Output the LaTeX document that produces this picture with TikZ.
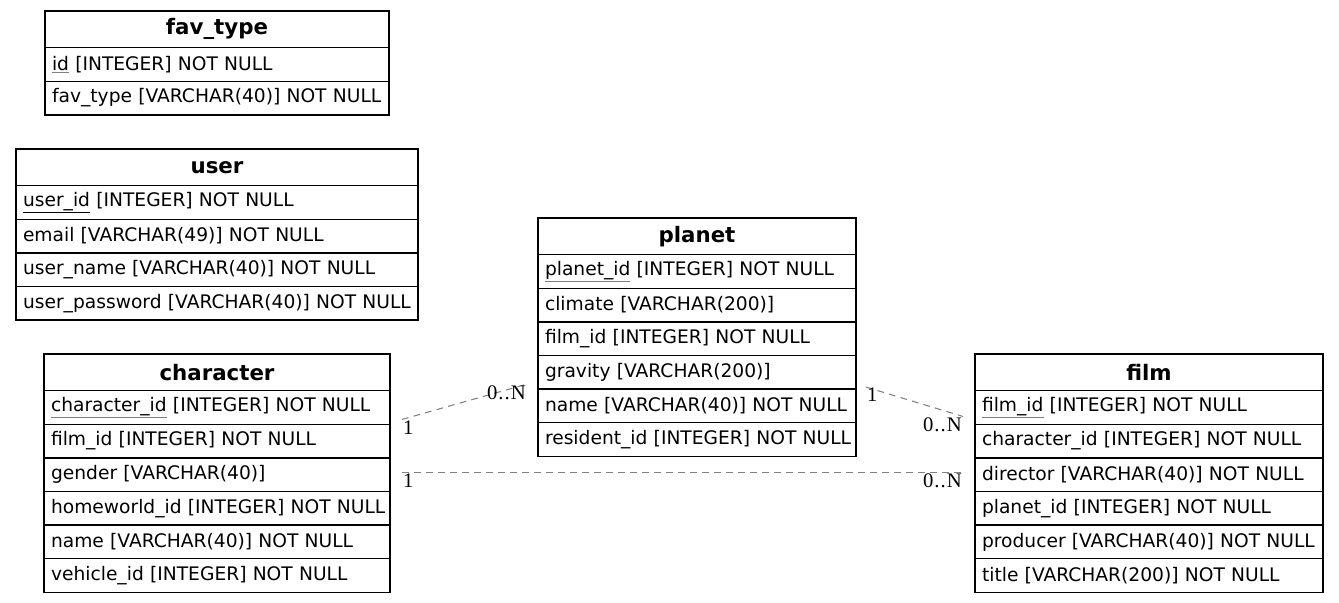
\documentclass[tikz,border=0pt]{standalone}
\usepackage{fontspec}
\setmainfont{DejaVu Sans}
\newfontfamily\cardfont[LetterSpace=5]{Liberation Serif}
\usetikzlibrary{positioning}
\newcommand{\pkey}[1]{\textcolor{gray}{\underline{\textcolor{black}{#1}}}}
\tikzset{
  tablehead/.style={draw, line width=1pt, outer sep=0pt, inner xsep=5.25pt, inner ysep=0pt,
    text width=#1, align=center, minimum height=27.5pt, font=\fontsize{16pt}{18pt}\selectfont\bfseries},
  tablerow/.style={draw, line width=1pt, outer sep=0pt, inner xsep=5.25pt, inner ysep=0pt,
    text width=#1, align=left, minimum height=25.2pt, font=\fontsize{14pt}{16pt}\selectfont},
  relation/.style={draw=gray, line width=0.8pt, dash pattern=on 5pt off 4pt},
  card/.style={font=\cardfont\fontsize{15.5pt}{17pt}\selectfont, inner sep=0.5pt}
}

\begin{document}
\begin{tikzpicture}[x=0.75pt, y=-0.75pt]
\useasboundingbox (0,0) rectangle (1339,603);

\node[tablehead=247.5pt, anchor=north west] (favtype-0) at (45,11) {fav\_type};
\foreach \t [count=\i, remember=\i as \j (initially 0)] in
  {\pkey{id} [INTEGER] NOT NULL, fav\_type [VARCHAR(40)] NOT NULL}
  \node[tablerow=247.5pt, below=0pt of favtype-\j] (favtype-\i) {\mbox{\t}};

\node[tablehead=291pt, anchor=north west] (user-0) at (16,149) {user};
\foreach \t [count=\i, remember=\i as \j (initially 0)] in
  {\underline{user\_id} [INTEGER] NOT NULL, email [VARCHAR(49)] NOT NULL,
   user\_name [VARCHAR(40)] NOT NULL, user\_password [VARCHAR(40)] NOT NULL}
  \node[tablerow=291pt, below=0pt of user-\j] (user-\i) {\mbox{\t}};

\node[tablehead=228pt, anchor=north west] (planet-0) at (538,218) {planet};
\foreach \t [count=\i, remember=\i as \j (initially 0)] in
  {\pkey{planet\_id} [INTEGER] NOT NULL, climate [VARCHAR(200)],
   film\_id [INTEGER] NOT NULL, gravity [VARCHAR(200)],
   name [VARCHAR(40)] NOT NULL, resident\_id [INTEGER] NOT NULL}
  \node[tablerow=228pt, below=0pt of planet-\j] (planet-\i) {\mbox{\t}};

\node[tablehead=249pt, anchor=north west] (character-0) at (44,354) {character};
\foreach \t [count=\i, remember=\i as \j (initially 0)] in
  {\pkey{character\_id} [INTEGER] NOT NULL, film\_id [INTEGER] NOT NULL,
   gender [VARCHAR(40)], homeworld\_id [INTEGER] NOT NULL,
   name [VARCHAR(40)] NOT NULL, vehicle\_id [INTEGER] NOT NULL}
  \node[tablerow=249pt, below=0pt of character-\j] (character-\i) {\mbox{\t}};

\node[tablehead=250.5pt, anchor=north west] (film-0) at (975,354) {film};
\foreach \t [count=\i, remember=\i as \j (initially 0)] in
  {\pkey{film\_id} [INTEGER] NOT NULL, character\_id [INTEGER] NOT NULL,
   director [VARCHAR(40)] NOT NULL, planet\_id [INTEGER] NOT NULL,
   producer [VARCHAR(40)] NOT NULL, title [VARCHAR(200)] NOT NULL}
  \node[tablerow=250.5pt, below=0pt of film-\j] (film-\i) {\mbox{\t}};

% relation end points
\coordinate (charplanet) at ([shift={(9pt,-9pt)}]character-1.east);
\coordinate (planetchar) at ([shift={(-8.25pt,3.75pt)}]planet-4.south west);
\coordinate (charfilm) at ([shift={(9pt,1.5pt)}]character-3.east);
\coordinate (filmchar) at ([shift={(-9pt,1.5pt)}]film-3.west);
\coordinate (planetfilm) at ([shift={(7.5pt,1.5pt)}]planet-4.south east);
\coordinate (filmplanet) at ([shift={(-9pt,-6.75pt)}]film-1.west);

\draw[relation] (charplanet) -- (planetchar)
  node[card, at start, below right] {1} node[card, at end, below left] {0..N};
\draw[relation] (charfilm) -- (filmchar)
  node[card, at start, below right] {1} node[card, at end, below left] {0..N};
\draw[relation] (planetfilm) -- (filmplanet)
  node[card, at start, below right] {1} node[card, at end, below left] {0..N};
\end{tikzpicture}
\end{document}
